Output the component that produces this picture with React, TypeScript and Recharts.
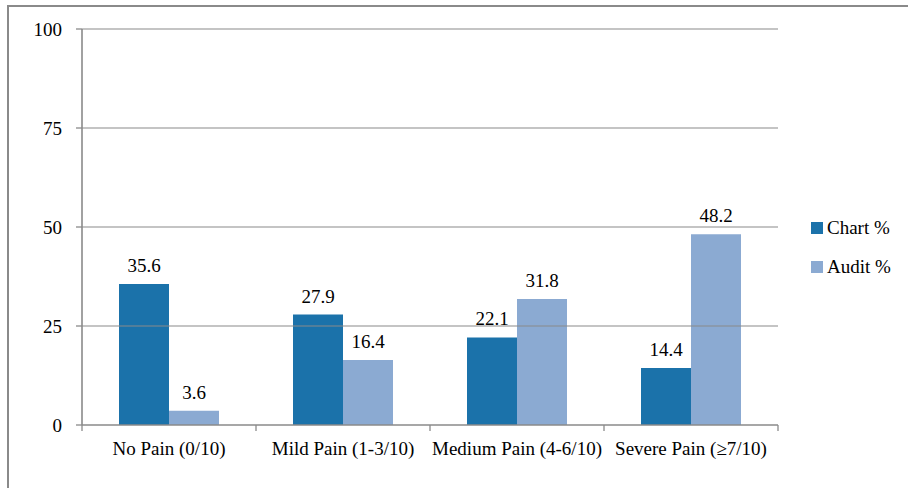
import React from 'react';
import { BarChart, Bar, XAxis, YAxis, ReferenceLine, LabelList } from 'recharts';

// pain categories and the two series (percent)
const categories = ['No Pain (0/10)', 'Mild Pain (1-3/10)', 'Medium Pain (4-6/10)', 'Severe Pain (≥7/10)'];
const chartPct = [35.6, 27.9, 22.1, 14.4];
const auditPct = [3.6, 16.4, 31.8, 48.2];
const yTicks = [0, 25, 50, 75, 100];

const seriesNames = ['Chart %', 'Audit %'];
const seriesColors = ['#1B72AA', '#8BAAD2'];

const FONT = '"Liberation Serif", "Times New Roman", serif';
const AXIS = '#8a8a8a';

const data = categories.map((name, i) => ({
  name,
  chart: chartPct[i],
  audit: auditPct[i],
}));

const tickStyle = { fontFamily: FONT, fontSize: 19, fill: '#000' };

// category label plus the small tick marks on the band boundaries
function CategoryTick(props: any) {
  const { x, y, payload, index, visibleTicksCount } = props;
  const half = payload.offset || 0;
  const last = index === visibleTicksCount - 1;
  return (
    <g>
      <line x1={x - half} x2={x - half} y1={y} y2={y + 6} stroke={AXIS} strokeWidth={1.3} />
      {last && <line x1={x + half} x2={x + half} y1={y} y2={y + 6} stroke={AXIS} strokeWidth={1.3} />}
      <text x={x} y={y + 17} dy="0.71em" textAnchor="middle" {...tickStyle}>
        {payload.value}
      </text>
    </g>
  );
}

export default function App() {
  return (
    <div style={{ position: 'absolute', left: 0, top: 0, width: 908, height: 488, background: '#fff', overflow: 'hidden' }}>
      {/* outer frame, runs off the right and bottom edges */}
      <div
        style={{
          position: 'absolute',
          left: 7,
          top: 5,
          width: 1000,
          height: 600,
          borderTop: `2px solid ${AXIS}`,
          borderLeft: `2px solid ${AXIS}`,
        }}
      />
      <div style={{ position: 'absolute', left: 0, top: 0 }}>
        <BarChart
          width={908}
          height={488}
          data={data}
          margin={{ top: 29, right: 130, bottom: 0, left: 0 }}
          barGap={0}
          barSize={50}
        >
          {/* horizontal gridlines */}
          {yTicks.filter((t) => t > 0).map((t) => (
            <ReferenceLine key={t} y={t} stroke={AXIS} strokeWidth={1.2} ifOverflow="visible" />
          ))}
          <XAxis
            dataKey="name"
            height={63}
            interval={0}
            axisLine={{ stroke: AXIS, strokeWidth: 1.6 }}
            tickLine={false}
            tickSize={0}
            tickMargin={0}
            tick={<CategoryTick />}
          />
          <YAxis
            width={82}
            domain={[0, 100]}
            ticks={yTicks}
            tickSize={6}
            tickMargin={14}
            axisLine={{ stroke: AXIS, strokeWidth: 1.6 }}
            tickLine={{ stroke: AXIS, strokeWidth: 1.3 }}
            tick={tickStyle}
          />
          <Bar dataKey="chart" name={seriesNames[0]} fill={seriesColors[0]} isAnimationActive={false}>
            <LabelList dataKey="chart" position="top" offset={12} fontFamily={FONT} fontSize={19} fill="#000" />
          </Bar>
          <Bar dataKey="audit" name={seriesNames[1]} fill={seriesColors[1]} isAnimationActive={false}>
            <LabelList dataKey="audit" position="top" offset={12} fontFamily={FONT} fontSize={19} fill="#000" />
          </Bar>
        </BarChart>
      </div>
      {/* legend */}
      {seriesNames.map((name, i) => (
        <div
          key={name}
          style={{
            position: 'absolute',
            left: 811,
            top: 216 + i * 39,
            height: 24,
            display: 'flex',
            alignItems: 'center',
            fontFamily: FONT,
            fontSize: 19,
            color: '#000',
            whiteSpace: 'nowrap',
          }}
        >
          <span style={{ width: 12, height: 12, background: seriesColors[i], marginRight: 4, display: 'inline-block' }} />
          <span>{name}</span>
        </div>
      ))}
    </div>
  );
}
